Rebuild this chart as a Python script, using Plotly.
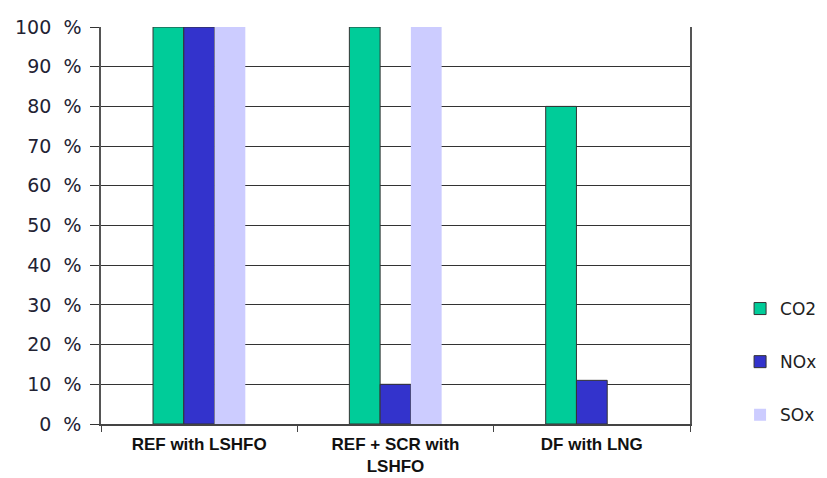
import plotly.graph_objects as go

categories = ["<b>REF with LSHFO</b>", "<b>REF + SCR with<br>LSHFO</b>", "<b>DF with LNG</b>"]
co2 = [100, 100, 80]
nox = [100, 10, 11]
sox = [100, 100, 0]
y_ticks = [0, 10, 20, 30, 40, 50, 60, 70, 80, 90, 100]
y_labels = [f"{v}\u00a0\u00a0%" for v in y_ticks]

fig = go.Figure()
fig.add_trace(go.Bar(name="CO2", x=categories, y=co2, marker=dict(color="#00CC99", line=dict(color="#333333", width=1)), legendgroup="a"))
fig.add_trace(go.Bar(name="NOx", x=categories, y=nox, marker=dict(color="#3333CC", line=dict(color="#333333", width=1)), legendgroup="b"))
fig.add_trace(go.Bar(name="SOx", x=categories, y=sox, marker=dict(color="#CCCCFF", line=dict(color="#CCCCFF", width=0)), legendgroup="c"))

# page body has an 8px default margin, so the figure is shifted by 8px
fig.update_layout(
    width=819, height=470,
    margin=dict(l=93, r=137, t=19, b=54, autoexpand=False),
    paper_bgcolor="white", plot_bgcolor="white",
    barmode="group", bargap=0.53, bargroupgap=0,
    font=dict(family="DejaVu Sans", size=18, color="#222222"),
    legend=dict(x=1.085, xanchor="left", y=0.335, yanchor="top",
                traceorder="grouped", tracegroupgap=28, borderwidth=0,
                font=dict(family="DejaVu Sans", size=17, color="#222222")),
    xaxis=dict(showline=True, linecolor="#444444", linewidth=1.5, automargin=False,
               ticks="outside", tickson="boundaries", ticklen=6, tickcolor="#444444",
               ticklabelstandoff=4,
               tickfont=dict(family="Liberation Sans", size=17, color="#111111"),
               showgrid=False),
    yaxis=dict(range=[0, 100], tickvals=y_ticks, ticktext=y_labels, automargin=False,
               showline=True, linecolor="#555555", linewidth=1.5, mirror=True,
               ticks="outside", ticklen=9, tickcolor="#333333",
               showgrid=True, gridcolor="#333333", gridwidth=1,
               zeroline=False, ticklabelstandoff=5,
               tickfont=dict(family="DejaVu Sans", size=19, color="#222233")),
)
fig.write_html("out.html")
